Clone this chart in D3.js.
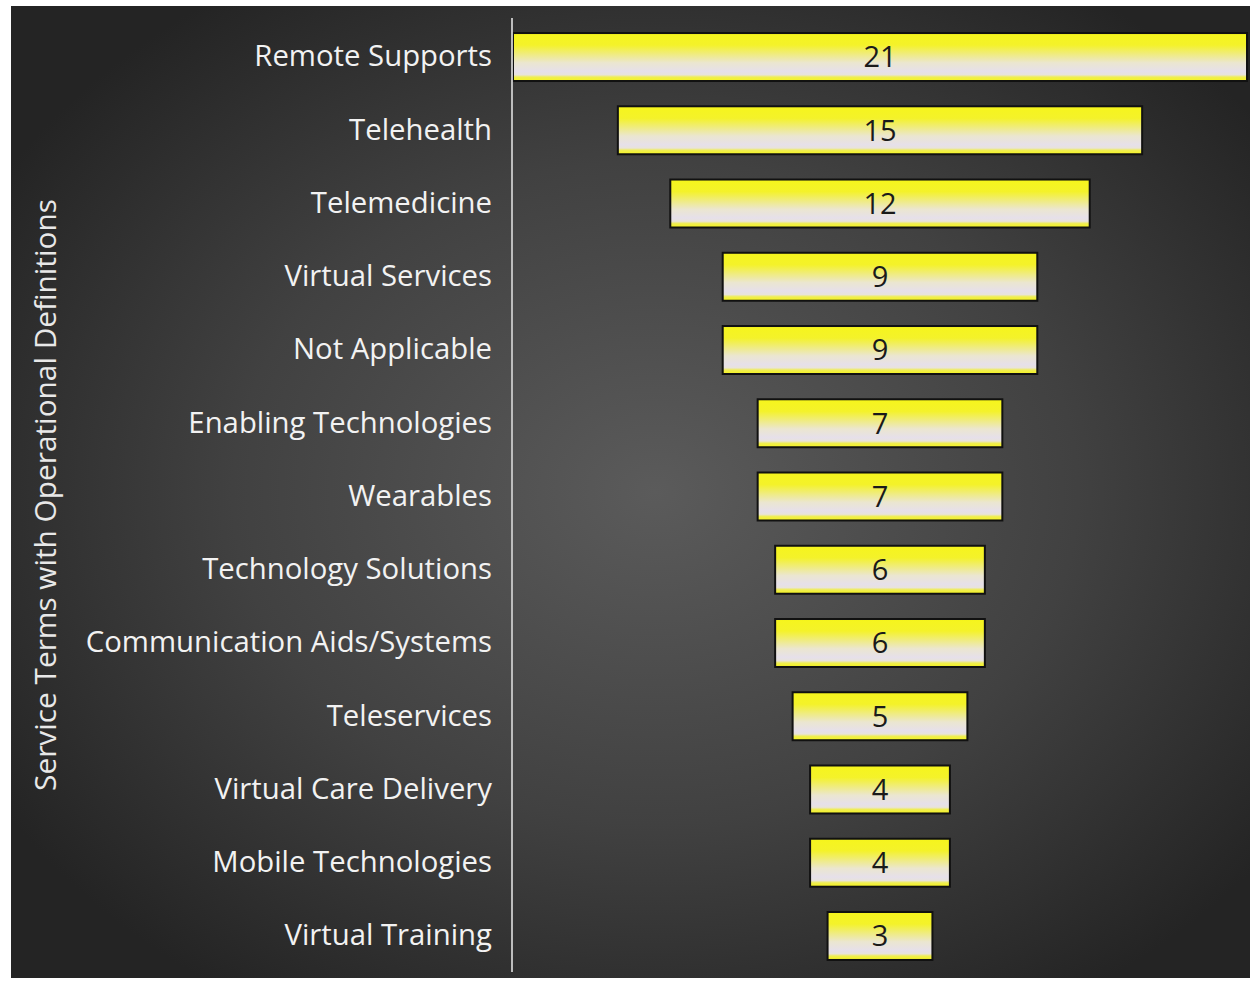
<!DOCTYPE html>
<html>
<head>
<meta charset="utf-8">
<script src="https://cdn.jsdelivr.net/npm/d3@7"></script>
<style>
  body { margin: 0; background: #ffffff; }
  svg { display: block; }
</style>
</head>
<body>
<svg id="funnel"></svg>
<script>
// chart data
var terms = ["Remote Supports", "Telehealth", "Telemedicine", "Virtual Services",
  "Not Applicable", "Enabling Technologies", "Wearables", "Technology Solutions",
  "Communication Aids/Systems", "Teleservices", "Virtual Care Delivery",
  "Mobile Technologies", "Virtual Training"];
var counts = [21, 15, 12, 9, 9, 7, 7, 6, 6, 5, 4, 4, 3];
var axisTitle = "Service Terms with Operational Definitions";

var W = 1254, H = 981;
var fontFam = "'Open Sans', Lato, sans-serif";

var svg = d3.select("#funnel")
  .attr("width", W)
  .attr("height", H);

var defs = svg.append("defs");

// dark radial background
var bg = defs.append("radialGradient")
  .attr("id", "bg")
  .attr("cx", "0.52").attr("cy", "0.5").attr("r", "0.62");
bg.append("stop").attr("offset", "0%").attr("stop-color", "#5b5b5b");
bg.append("stop").attr("offset", "55%").attr("stop-color", "#414141");
bg.append("stop").attr("offset", "100%").attr("stop-color", "#242424");

// bar fill: yellow top, pale lilac band, thin yellow at bottom
var bar = defs.append("linearGradient")
  .attr("id", "barFill")
  .attr("x1", 0).attr("y1", 0).attr("x2", 0).attr("y2", 1);
bar.append("stop").attr("offset", "0%").attr("stop-color", "#f6f51c");
bar.append("stop").attr("offset", "25%").attr("stop-color", "#f4f22a");
bar.append("stop").attr("offset", "62%").attr("stop-color", "#ebe6d0");
bar.append("stop").attr("offset", "80%").attr("stop-color", "#e6e0ea");
bar.append("stop").attr("offset", "87%").attr("stop-color", "#e8e3dc");
bar.append("stop").attr("offset", "92%").attr("stop-color", "#f0ee50");
bar.append("stop").attr("offset", "100%").attr("stop-color", "#f5f41e");

svg.append("rect")
  .attr("x", 11).attr("y", 6)
  .attr("width", 1239).attr("height", 972)
  .attr("fill", "url(#bg)");

// scales
var y = d3.scaleBand()
  .domain(terms)
  .range([20.4, 972.6])
  .paddingInner(0.345)
  .paddingOuter(0.1725);

var x = d3.scaleLinear()
  .domain([-d3.max(counts) / 2, d3.max(counts) / 2])
  .range([513, 1247]);

var rows = terms.map(function(t, i) { return { term: t, value: counts[i] }; });

// bars, centred on the middle of the scale
svg.selectAll(".bar")
  .data(rows)
  .enter().append("rect")
  .attr("class", "bar")
  .attr("x", function(d) { return x(-d.value / 2); })
  .attr("y", function(d) { return y(d.term); })
  .attr("width", function(d) { return x(d.value / 2) - x(-d.value / 2); })
  .attr("height", y.bandwidth())
  .attr("fill", "url(#barFill)")
  .attr("stroke", "#111")
  .attr("stroke-width", 2);

// value labels
svg.selectAll(".val")
  .data(rows)
  .enter().append("text")
  .attr("class", "val")
  .attr("x", x(0))
  .attr("y", function(d) { return y(d.term) + y.bandwidth() / 2; })
  .attr("dy", "0.36em")
  .attr("text-anchor", "middle")
  .style("font-family", fontFam)
  .style("font-size", "29px")
  .style("fill", "#1a1a1a")
  .text(function(d) { return d.value; });

// category axis
var axis = svg.append("g")
  .attr("transform", "translate(512,0)")
  .call(d3.axisLeft(y).tickSize(0).tickPadding(20).tickSizeOuter(0));

axis.select(".domain")
  .attr("stroke", "#bdbdbd")
  .attr("stroke-width", 2)
  .attr("d", "M0,18V972");

axis.selectAll("text")
  .style("font-family", fontFam)
  .style("font-size", "29.3px")
  .style("fill", "#f2f2f2");

// axis title
svg.append("text")
  .attr("transform", "translate(45,495) rotate(-90)")
  .attr("dy", "0.36em")
  .attr("text-anchor", "middle")
  .style("font-family", fontFam)
  .style("font-size", "29.8px")
  .style("fill", "#e8e8e8")
  .text(axisTitle);
</script>
</body>
</html>
